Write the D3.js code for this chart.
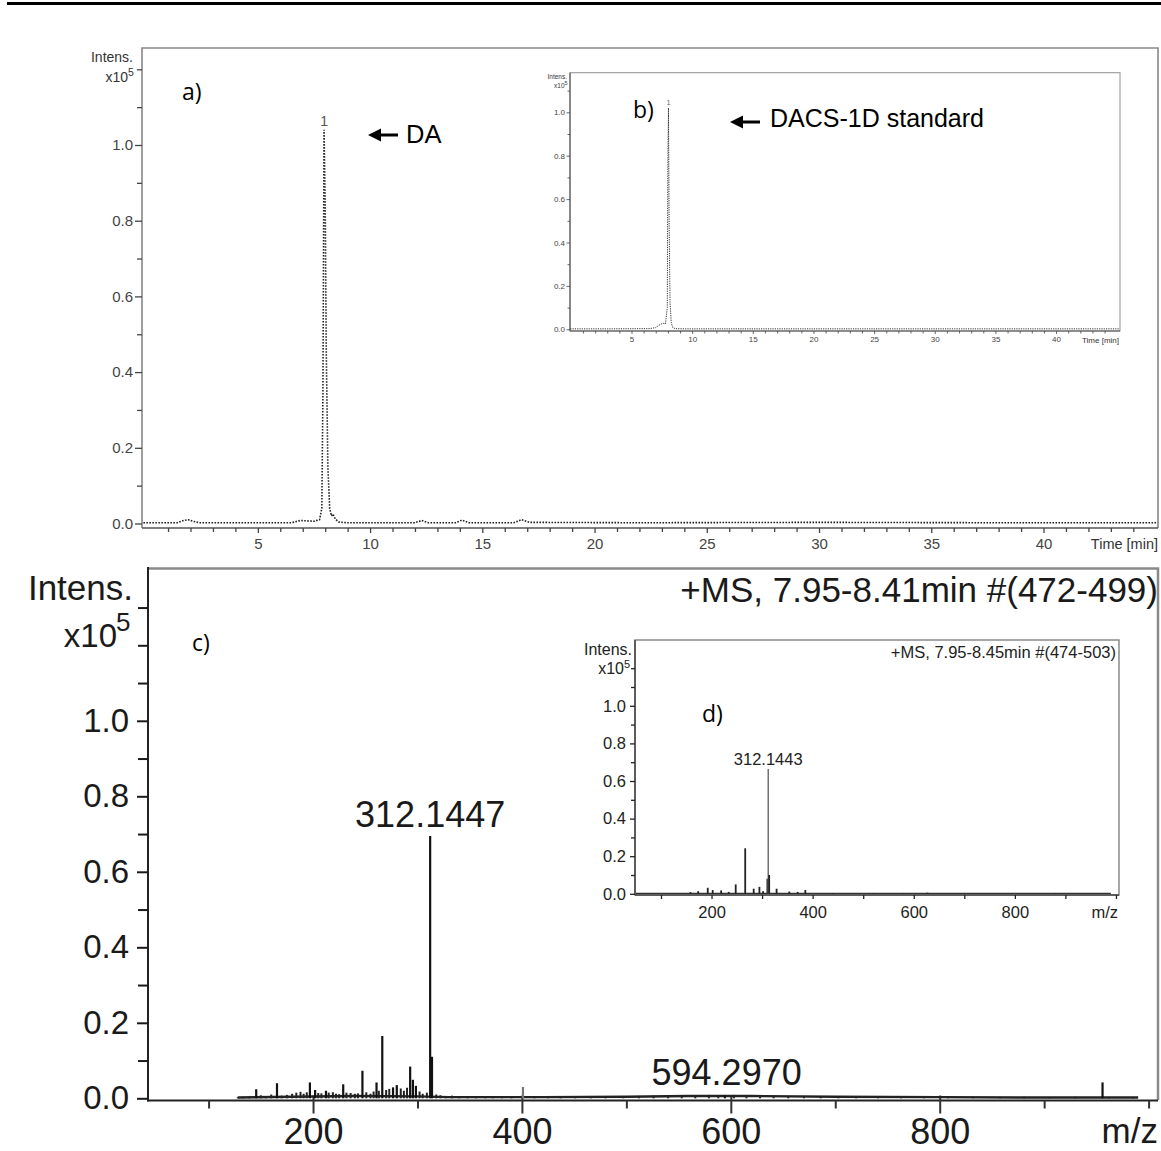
<!DOCTYPE html>
<html>
<head>
<meta charset="utf-8">
<script src="https://cdn.jsdelivr.net/npm/d3@7"></script>
<style>
body { margin: 0; background: #fff; }
text { font-family: "Liberation Sans", Arial, sans-serif; }
.plab { font-family: "Open Sans", "Noto Sans", sans-serif; }
</style>
</head>
<body>
<svg id="fig" width="1161" height="1151"></svg>
<script>
// ---- a) chromatogram (time in min, intensity x10^5)
var chromA_t = [-0.1, 1.4, 1.7, 1.9, 2.1, 2.4, 4.0, 6.5, 6.9, 7.2, 7.5, 7.75, 7.85, 7.9, 7.95, 8.0, 8.05, 8.12, 8.2, 8.28, 8.35, 8.45, 8.6, 9.0, 12.0, 12.3, 12.6, 13.8, 14.1, 14.4, 16.4, 16.75, 17.1, 22, 30, 38, 45.05];
var chromA_i = [0.002, 0.002, 0.008, 0.01, 0.006, 0.002, 0.002, 0.002, 0.008, 0.007, 0.006, 0.01, 0.04, 0.35, 1.04, 0.85, 0.45, 0.15, 0.04, 0.02, 0.025, 0.012, 0.004, 0.002, 0.002, 0.008, 0.002, 0.002, 0.009, 0.002, 0.002, 0.01, 0.003, 0.002, 0.003, 0.002, 0.002];

// ---- b) inset chromatogram
var chromB_t = [-0.05, 3, 6.5, 7.0, 7.3, 7.6, 7.8, 7.95, 8.0, 8.05, 8.1, 8.18, 8.28, 8.4, 8.6, 9.5, 20, 30, 45.2];
var chromB_i = [0.002, 0.002, 0.003, 0.008, 0.02, 0.028, 0.025, 0.1, 0.8, 1.02, 0.5, 0.12, 0.03, 0.008, 0.003, 0.002, 0.002, 0.002, 0.002];

// ---- c) mass spectrum, main sticks
var msC_mz = [145.6, 165.5, 197, 202, 212.4, 228.9, 247.3, 260.8, 266.3, 276.6, 280.2, 293, 295.6, 298.5, 312.14, 313.9, 401, 594.3, 955.9];
var msC_int = [0.024, 0.04, 0.042, 0.022, 0.02, 0.037, 0.073, 0.042, 0.165, 0.029, 0.035, 0.084, 0.049, 0.033, 0.695, 0.11, 0.03, 0.008, 0.042];
// c) small noise sticks
var noiseC_mz = [128, 133, 139, 150, 155, 160, 170, 175, 180, 184, 188, 191, 194, 205, 208, 215, 219, 222, 225, 232, 236, 240, 243, 251, 255, 258, 263, 270, 273, 284, 287, 290, 302, 305, 309, 318, 322, 327, 333, 340, 348, 356, 365, 372, 381, 390, 412, 425, 437, 451, 466, 480, 497, 512, 526, 540, 553, 566, 579, 588, 603, 615, 628, 641, 655, 670, 686, 703, 720, 741, 763, 785, 808, 832, 858, 881, 905, 930, 962, 985];
var noiseC_int = [0.003, 0.004, 0.005, 0.008, 0.006, 0.01, 0.007, 0.009, 0.012, 0.015, 0.017, 0.012, 0.016, 0.014, 0.013, 0.015, 0.016, 0.012, 0.011, 0.015, 0.014, 0.012, 0.013, 0.016, 0.012, 0.018, 0.02, 0.022, 0.025, 0.026, 0.02, 0.028, 0.018, 0.012, 0.015, 0.01, 0.008, 0.006, 0.007, 0.005, 0.006, 0.005, 0.004, 0.006, 0.005, 0.005, 0.005, 0.004, 0.005, 0.004, 0.005, 0.006, 0.005, 0.006, 0.007, 0.008, 0.007, 0.008, 0.009, 0.008, 0.009, 0.007, 0.008, 0.007, 0.006, 0.006, 0.005, 0.006, 0.005, 0.005, 0.004, 0.004, 0.005, 0.004, 0.003, 0.004, 0.003, 0.004, 0.003, 0.003];
// c) baseline band
var baseC_mz = [128, 180, 240, 300, 330, 420, 500, 560, 620, 700, 800, 900, 990];
var baseC_int = [0.002, 0.004, 0.006, 0.005, 0.003, 0.003, 0.004, 0.006, 0.006, 0.004, 0.003, 0.002, 0.002];

// ---- d) inset mass spectrum
var msD_mz = [158.4, 173.6, 192.5, 202.3, 219, 234, 247.8, 266.6, 283.4, 294.7, 302, 310.5, 312.14, 314, 328.7, 353.8, 370.4, 385.5, 440, 520, 580, 627, 700, 880];
var msD_int = [0.009, 0.014, 0.032, 0.02, 0.018, 0.01, 0.05, 0.242, 0.027, 0.037, 0.014, 0.08, 0.664, 0.1, 0.027, 0.012, 0.01, 0.02, 0.004, 0.003, 0.004, 0.006, 0.003, 0.003];

// ---- tick labels
var yTicksMajor = [0, 0.2, 0.4, 0.6, 0.8, 1.0];
var yTicksMinorA = [0.1, 0.3, 0.5, 0.7, 0.9, 1.1, 1.2];
var yTicksMinorC = [0.1, 0.3, 0.5, 0.7, 0.9, 1.1, 1.2, 1.3];
var yTicksMinorD = [0.1, 0.3, 0.5, 0.7, 0.9, 1.1, 1.2];
var timeTicks = [5, 10, 15, 20, 25, 30, 35, 40];
var timeMinor = d3.range(1, 46);
var mzTicks = [200, 400, 600, 800];
var mzMinor = [100, 300, 500, 700, 900, 1000];

var svg = d3.select("#fig");
var fmt = d3.format(".1f");

function zip(a, b) {
    return a.map(function (v, i) { return [v, b[i]]; });
}

function leftAxis(x, scale, vals, len, pad, fs, col, withLabels) {
    var ax = d3.axisLeft(scale).tickValues(vals).tickSize(len).tickSizeOuter(0).tickPadding(pad)
        .tickFormat(withLabels ? fmt : "");
    var g = svg.append("g").attr("transform", "translate(" + x + ",0)").call(ax);
    g.select(".domain").remove();
    g.selectAll("line").attr("stroke", col).attr("stroke-width", 1.3);
    g.selectAll("text").attr("fill", col).style("font-size", fs + "px");
    return g;
}

function bottomAxis(y, scale, vals, len, pad, fs, col, withLabels) {
    var ax = d3.axisBottom(scale).tickValues(vals).tickSize(len).tickSizeOuter(0).tickPadding(pad)
        .tickFormat(withLabels ? d3.format("d") : "");
    var g = svg.append("g").attr("transform", "translate(0," + y + ")").call(ax);
    g.select(".domain").remove();
    g.selectAll("line").attr("stroke", col).attr("stroke-width", 1.3);
    g.selectAll("text").attr("fill", col).style("font-size", fs + "px");
    return g;
}

function arrow(xTip, y, len) {
    svg.append("path")
        .attr("d", "M" + xTip + "," + y + " L" + (xTip + 13) + "," + (y - 6.5) + " L" + (xTip + 13) + "," + (y + 6.5) + " Z")
        .attr("fill", "#000");
    svg.append("line").attr("x1", xTip + 10).attr("x2", xTip + len).attr("y1", y).attr("y2", y)
        .attr("stroke", "#000").attr("stroke-width", 3);
}

// top rule
svg.append("line").attr("x1", 7).attr("x2", 1161).attr("y1", 3.5).attr("y2", 3.5)
    .attr("stroke", "#000").attr("stroke-width", 3);

// ================= panel a
var xA = d3.scaleLinear().domain([-0.16, 45.1]).range([142, 1158]);
var yA = d3.scaleLinear().domain([0, 1]).range([523.5, 145]);
var colA = "#555";

svg.append("path").attr("d", "M142,528 L142,48 L1158,48 L1158,528")
    .attr("fill", "none").attr("stroke", "#888").attr("stroke-width", 1.6);
svg.append("line").attr("x1", 142).attr("x2", 1158).attr("y1", 528).attr("y2", 528)
    .attr("stroke", colA).attr("stroke-width", 1.6);

leftAxis(142, yA, yTicksMajor, 7, 2, 15, "#444", true);
leftAxis(142, yA, yTicksMinorA, 5, 2, 15, "#444", false);
bottomAxis(528, xA, timeTicks, 5, 5, 15, "#444", true);
bottomAxis(528, xA, timeMinor.filter(function (d) { return d % 5 !== 0; }), 4, 5, 15, "#444", false);

svg.append("text").attr("x", 1158).attr("y", 549).attr("text-anchor", "end")
    .style("font-size", "14.5px").attr("fill", "#333").text("Time [min]");
svg.append("text").attr("x", 133).attr("y", 62).attr("text-anchor", "end")
    .style("font-size", "14px").attr("fill", "#333").text("Intens.");
svg.append("text").attr("x", 128).attr("y", 82).attr("text-anchor", "end")
    .style("font-size", "14px").attr("fill", "#333").text("x10");
svg.append("text").attr("x", 128).attr("y", 76).style("font-size", "10.5px").attr("fill", "#333").text("5");

svg.append("path").datum(zip(chromA_t, chromA_i))
    .attr("d", d3.line().x(function (d) { return xA(d[0]); }).y(function (d) { return yA(d[1]); }))
    .attr("fill", "none").attr("stroke", "#222").attr("stroke-width", 1.6)
    .attr("stroke-dasharray", "1.6,1.4");

svg.append("text").attr("x", xA(7.95)).attr("y", 126).attr("text-anchor", "middle")
    .style("font-size", "14px").attr("fill", "#555").text("1");
svg.append("text").attr("class", "plab").attr("x", 182).attr("y", 99.5)
    .style("font-size", "23px").attr("fill", "#000").text("a)");
arrow(368, 135, 30);
svg.append("text").attr("x", 406).attr("y", 142.5).style("font-size", "25.5px").attr("fill", "#000").text("DA");

// ================= inset b
var xB = d3.scaleLinear().domain([-0.07, 45.27]).range([570, 1120]);
var yB = d3.scaleLinear().domain([0, 1]).range([329.3, 112.3]);

svg.append("rect").attr("x", 570).attr("y", 72.7).attr("width", 550).attr("height", 258.3)
    .attr("fill", "#fff").attr("stroke", "#999").attr("stroke-width", 1.1);
svg.append("line").attr("x1", 570).attr("x2", 1120).attr("y1", 331).attr("y2", 331)
    .attr("stroke", "#555").attr("stroke-width", 1.1);
svg.append("line").attr("x1", 570).attr("x2", 570).attr("y1", 72.7).attr("y2", 331)
    .attr("stroke", "#555").attr("stroke-width", 1.1);

leftAxis(570, yB, yTicksMajor, 3.5, 1.5, 8, "#444", true).selectAll("line").attr("stroke-width", 0.8);
leftAxis(570, yB, [0.1, 0.3, 0.5, 0.7, 0.9, 1.1], 2.5, 1.5, 8, "#444", false).selectAll("line").attr("stroke-width", 0.8);
bottomAxis(331, xB, timeTicks, 3, 2.5, 8, "#444", true).selectAll("line").attr("stroke-width", 0.8);
bottomAxis(331, xB, timeMinor.filter(function (d) { return d % 5 !== 0; }), 2.5, 2.5, 8, "#444", false).selectAll("line").attr("stroke-width", 0.8);

svg.append("text").attr("x", 1119).attr("y", 343).attr("text-anchor", "end")
    .style("font-size", "8px").attr("fill", "#333").text("Time [min]");
svg.append("text").attr("x", 567).attr("y", 78.5).attr("text-anchor", "end")
    .style("font-size", "6.5px").attr("fill", "#333").text("Intens.");
svg.append("text").attr("x", 564.5).attr("y", 87.5).attr("text-anchor", "end")
    .style("font-size", "6.5px").attr("fill", "#333").text("x10");
svg.append("text").attr("x", 564.5).attr("y", 84.5).style("font-size", "5.5px").attr("fill", "#333").text("5");

svg.append("path").datum(zip(chromB_t, chromB_i))
    .attr("d", d3.line().x(function (d) { return xB(d[0]); }).y(function (d) { return yB(d[1]); }))
    .attr("fill", "none").attr("stroke", "#333").attr("stroke-width", 1)
    .attr("stroke-dasharray", "1.2,1.1");
svg.append("text").attr("x", xB(8.05)).attr("y", 104.5).attr("text-anchor", "middle")
    .style("font-size", "6.5px").attr("fill", "#555").text("1");

svg.append("text").attr("class", "plab").attr("x", 633).attr("y", 117.5)
    .style("font-size", "23px").attr("fill", "#000").text("b)");
arrow(730, 122, 30);
svg.append("text").attr("x", 770).attr("y", 126.5).style("font-size", "25px").attr("fill", "#000").text("DACS-1D standard");

// ================= panel c
var xC = d3.scaleLinear().domain([42, 1009]).range([148, 1158]);
var yC = d3.scaleLinear().domain([0, 1]).range([1098.3, 720.8]);
var colC = "#1a1a1a";

svg.append("path").attr("d", "M148,568.5 L1158,568.5 L1158,1100")
    .attr("fill", "none").attr("stroke", "#8a8a8a").attr("stroke-width", 2.5);
svg.append("line").attr("x1", 148).attr("x2", 148).attr("y1", 567).attr("y2", 1101.5)
    .attr("stroke", "#222").attr("stroke-width", 2);
svg.append("line").attr("x1", 147).attr("x2", 1158).attr("y1", 1100.5).attr("y2", 1100.5)
    .attr("stroke", "#222").attr("stroke-width", 2);

leftAxis(148, yC, yTicksMajor, 11, 8, 33, colC, true).selectAll("line").attr("stroke-width", 2);
leftAxis(148, yC, yTicksMinorC, 10, 8, 33, colC, false).selectAll("line").attr("stroke-width", 2);
var cx1 = bottomAxis(1100.5, xC, mzTicks, 13, 4.5, 36, colC, true);
cx1.selectAll("line").attr("stroke-width", 2).attr("y1", -5).attr("stroke", "#333");
bottomAxis(1100.5, xC, mzMinor, 8, 4.5, 36, colC, false).selectAll("line").attr("stroke-width", 2).attr("stroke", "#333");

svg.append("text").attr("x", 1158).attr("y", 1143).attr("text-anchor", "end")
    .style("font-size", "35px").attr("fill", colC).text("m/z");
svg.append("text").attr("x", 133).attr("y", 600).attr("text-anchor", "end")
    .style("font-size", "35px").attr("fill", colC).text("Intens.");
svg.append("text").attr("x", 117).attr("y", 647).attr("text-anchor", "end")
    .style("font-size", "33px").attr("fill", colC).text("x10");
svg.append("text").attr("x", 116).attr("y", 631).style("font-size", "26px").attr("fill", colC).text("5");
svg.append("text").attr("x", 1158).attr("y", 602).attr("text-anchor", "end")
    .style("font-size", "35px").attr("fill", colC).text("+MS, 7.95-8.41min #(472-499)");
svg.append("text").attr("class", "plab").attr("x", 192).attr("y", 651)
    .style("font-size", "23px").attr("fill", "#000").text("c)");

// baseline band
svg.append("path").datum(zip(baseC_mz, baseC_int))
    .attr("d", d3.line().x(function (d) { return xC(d[0]); }).y(function (d) { return yC(d[1]); }))
    .attr("fill", "none").attr("stroke", "#222").attr("stroke-width", 2.4);
svg.selectAll(".noiseC").data(zip(noiseC_mz, noiseC_int)).enter().append("line")
    .attr("class", "noiseC")
    .attr("x1", function (d) { return xC(d[0]); }).attr("x2", function (d) { return xC(d[0]); })
    .attr("y1", yC(0)).attr("y2", function (d) { return yC(d[1]); })
    .attr("stroke", "#222").attr("stroke-width", 2);
svg.selectAll(".stickC").data(zip(msC_mz, msC_int)).enter().append("line")
    .attr("class", "stickC")
    .attr("x1", function (d) { return xC(d[0]); }).attr("x2", function (d) { return xC(d[0]); })
    .attr("y1", yC(0)).attr("y2", function (d) { return yC(d[1]); })
    .attr("stroke", function (d) { return d[0] > 390 && d[0] < 410 ? "#777" : "#111"; })
    .attr("stroke-width", 2.2);

svg.append("text").attr("x", xC(312.14)).attr("y", 827).attr("text-anchor", "middle")
    .style("font-size", "36px").attr("fill", colC).text("312.1447");
svg.append("text").attr("x", xC(596)).attr("y", 1085).attr("text-anchor", "middle")
    .style("font-size", "36px").attr("fill", colC).text("594.2970");

// ================= inset d
var xD = d3.scaleLinear().domain([48.6, 1006]).range([635, 1119]);
var yD = d3.scaleLinear().domain([0, 1]).range([893.8, 705.8]);
var colD = "#222";

svg.append("rect").attr("x", 635).attr("y", 640).attr("width", 484).attr("height", 255)
    .attr("fill", "#fff").attr("stroke", "#8a8a8a").attr("stroke-width", 1.5);
svg.append("line").attr("x1", 635).attr("x2", 1119).attr("y1", 895).attr("y2", 895)
    .attr("stroke", "#444").attr("stroke-width", 1.5);
svg.append("line").attr("x1", 635).attr("x2", 635).attr("y1", 640).attr("y2", 895)
    .attr("stroke", "#444").attr("stroke-width", 1.5);

leftAxis(635, yD, yTicksMajor, 5, 4, 16.5, colD, true);
leftAxis(635, yD, yTicksMinorD, 4, 4, 16.5, colD, false);
bottomAxis(895, xD, mzTicks, 4, 7, 16.5, colD, true);
bottomAxis(895, xD, mzMinor, 4, 7, 16.5, colD, false);

svg.append("text").attr("x", 1118).attr("y", 918).attr("text-anchor", "end")
    .style("font-size", "16.5px").attr("fill", colD).text("m/z");
svg.append("text").attr("x", 632).attr("y", 655).attr("text-anchor", "end")
    .style("font-size", "16px").attr("fill", colD).text("Intens.");
svg.append("text").attr("x", 624).attr("y", 674).attr("text-anchor", "end")
    .style("font-size", "16px").attr("fill", colD).text("x10");
svg.append("text").attr("x", 624).attr("y", 668).style("font-size", "11px").attr("fill", colD).text("5");
svg.append("text").attr("x", 1116).attr("y", 658).attr("text-anchor", "end")
    .style("font-size", "16.5px").attr("fill", colD).text("+MS, 7.95-8.45min #(474-503)");
svg.append("text").attr("class", "plab").attr("x", 702).attr("y", 722)
    .style("font-size", "23px").attr("fill", "#000").text("d)");

svg.append("line").attr("x1", 636).attr("x2", xD(990)).attr("y1", yD(0.002)).attr("y2", yD(0.002))
    .attr("stroke", "#333").attr("stroke-width", 1.3);
svg.selectAll(".stickD").data(zip(msD_mz, msD_int)).enter().append("line")
    .attr("class", "stickD")
    .attr("x1", function (d) { return xD(d[0]); }).attr("x2", function (d) { return xD(d[0]); })
    .attr("y1", yD(0)).attr("y2", function (d) { return yD(d[1]); })
    .attr("stroke", function (d) { return d[1] > 0.5 ? "#666" : "#222"; })
    .attr("stroke-width", function (d) { return d[1] > 0.5 ? 1.4 : 1.8; });
svg.append("text").attr("x", xD(312.14)).attr("y", 765).attr("text-anchor", "middle")
    .style("font-size", "16.5px").attr("fill", colD).text("312.1443");
</script>
</body>
</html>
